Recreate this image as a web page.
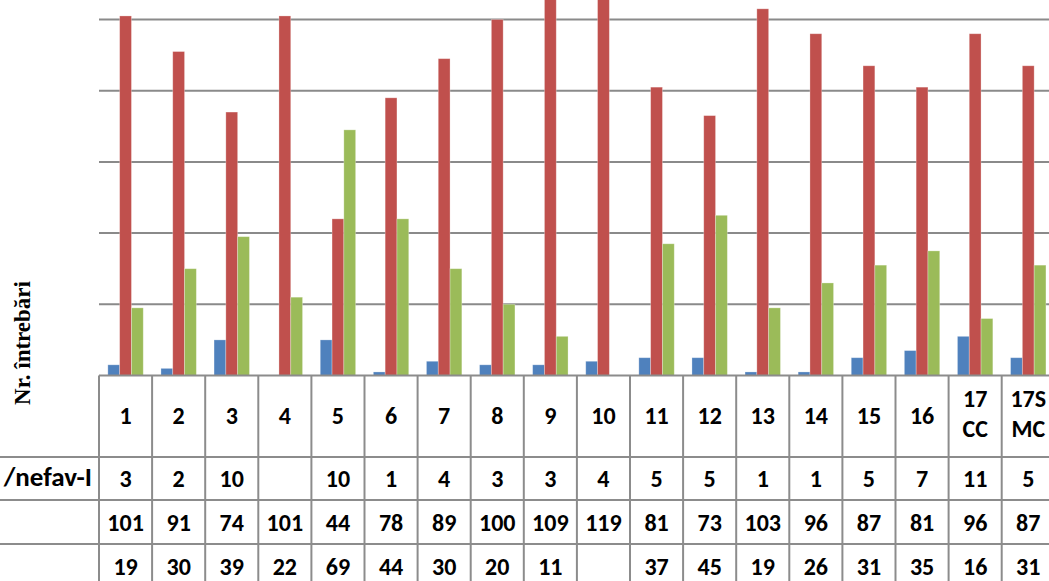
<!DOCTYPE html>
<html lang="ro">
  <head>
    <meta charset="UTF-8" />
    <title>Nr. întrebări</title>
    <style>
      body {
        margin: 0;
        background: #ffffff;
      }
      .cell {
        font-family: Carlito, Lato, "Open Sans", sans-serif;
        font-weight: 700;
        font-size: 24px;
        fill: #000000;
      }
    </style>
  </head>
  <body>
    <div id="chart"></div>

    <script src="https://cdn.jsdelivr.net/npm/d3@7"></script>

    <script>
      ///////////////////////////////////////////////////////////////////////////
      //////////////////////////////// Data /////////////////////////////////////
      ///////////////////////////////////////////////////////////////////////////

      var categories = ["1", "2", "3", "4", "5", "6", "7", "8", "9", "10",
        "11", "12", "13", "14", "15", "16", "17 CC", "17S MC"];
      // null = empty cell in the data table
      var blueValues = [3, 2, 10, null, 10, 1, 4, 3, 3, 4, 5, 5, 1, 1, 5, 7, 11, 5];
      var redValues = [101, 91, 74, 101, 44, 78, 89, 100, 109, 119, 81, 73, 103, 96, 87, 81, 96, 87];
      var greenValues = [19, 30, 39, 22, 69, 44, 30, 20, 11, null, 37, 45, 19, 26, 31, 35, 16, 31];
      var seriesNames = ["blue", "red", "green"];
      var rowLabels = ["/nefav-I", "", ""];
      var gridTicks = [20, 40, 60, 80, 100, 120];

      var series = [blueValues, redValues, greenValues];
      var colors = ["#4F81BD", "#C0504D", "#9BBB59"];

      ///////////////////////////////////////////////////////////////////////////
      ////////////////////////////// Set up svg /////////////////////////////////
      ///////////////////////////////////////////////////////////////////////////

      var width = 1049,
        height = 581;

      var svg = d3
        .select("#chart")
        .append("svg")
        .attr("width", width)
        .attr("height", height);

      var plotLeft = 99,
        colWidth = 53.1,
        baseY = 375.5;

      //Table rows (header + 3 data rows)
      var rowEdges = [375.5, 457, 500, 544, 588];

      var x = d3
        .scaleBand()
        .domain(categories)
        .range([plotLeft, plotLeft + colWidth * categories.length])
        .paddingInner(1 / 3)
        .paddingOuter(1 / 6);

      var xSeries = d3
        .scaleBand()
        .domain(seriesNames)
        .range([0, x.bandwidth()]);

      var y = d3
        .scaleLinear()
        .domain([0, 100])
        .range([baseY, 19.5]);

      ///////////////////////////////////////////////////////////////////////////
      ////////////////////////////// Gridlines //////////////////////////////////
      ///////////////////////////////////////////////////////////////////////////

      svg
        .append("g")
        .selectAll("line")
        .data(gridTicks)
        .enter()
        .append("line")
        .attr("x1", plotLeft)
        .attr("x2", width)
        .attr("y1", function(d) { return y(d); })
        .attr("y2", function(d) { return y(d); })
        .style("stroke", "#8a8a8a")
        .style("stroke-width", 2);

      ///////////////////////////////////////////////////////////////////////////
      //////////////////////////////// Bars /////////////////////////////////////
      ///////////////////////////////////////////////////////////////////////////

      var bars = [];
      categories.forEach(function(c, i) {
        series.forEach(function(s, j) {
          if (s[i] !== null) bars.push({ cat: c, key: seriesNames[j], value: s[i], color: colors[j] });
        });
      });

      svg
        .append("g")
        .selectAll("rect")
        .data(bars)
        .enter()
        .append("rect")
        .attr("x", function(d) { return x(d.cat) + xSeries(d.key); })
        .attr("width", xSeries.bandwidth())
        .attr("y", function(d) { return y(d.value); })
        .attr("height", function(d) { return baseY - y(d.value); })
        .style("fill", function(d) { return d.color; })
        .style("stroke", "rgba(255,255,255,0.35)")
        .style("stroke-width", 0.8);

      ///////////////////////////////////////////////////////////////////////////
      ///////////////////////////// Data table //////////////////////////////////
      ///////////////////////////////////////////////////////////////////////////

      var table = svg.append("g");
      var lineColor = "#8c8c8c";

      //horizontal lines: top only over the table, the others run to the left edge
      rowEdges.forEach(function(ry, i) {
        table
          .append("line")
          .attr("x1", i === 0 ? plotLeft : 0)
          .attr("x2", width)
          .attr("y1", ry)
          .attr("y2", ry)
          .style("stroke", lineColor)
          .style("stroke-width", 2);
      });

      //vertical lines
      d3.range(categories.length + 1).forEach(function(i) {
        table
          .append("line")
          .attr("x1", plotLeft + i * colWidth)
          .attr("x2", plotLeft + i * colWidth)
          .attr("y1", baseY)
          .attr("y2", height)
          .style("stroke", lineColor)
          .style("stroke-width", 2);
      });

      //header row (categories)
      categories.forEach(function(c, i) {
        var cx = plotLeft + (i + 0.5) * colWidth;
        var parts = c.split(" ");
        var t = table
          .append("text")
          .attr("class", "cell")
          .attr("text-anchor", "middle")
          .attr("x", cx);
        if (parts.length === 1) {
          t.attr("y", 424).text(c);
        } else {
          t.append("tspan").attr("x", cx).attr("y", 407).text(parts[0]);
          t.append("tspan").attr("x", cx).attr("y", 437).text(parts[1]);
        }
      });

      //data rows
      series.forEach(function(s, j) {
        var cy = (rowEdges[j + 1] + rowEdges[j + 2]) / 2 + 8.5;
        table
          .selectAll(".row" + j)
          .data(s)
          .enter()
          .append("text")
          .attr("class", "cell row" + j)
          .attr("text-anchor", "middle")
          .attr("x", function(d, i) { return plotLeft + (i + 0.5) * colWidth; })
          .attr("y", cy)
          .text(function(d) { return d === null ? "" : d; });

        table
          .append("text")
          .attr("class", "cell")
          .attr("text-anchor", "end")
          .attr("x", 92)
          .attr("y", cy - 1.5)
          .style("font-size", "27px")
          .text(rowLabels[j]);
      });

      ///////////////////////////////////////////////////////////////////////////
      ///////////////////////////// Axis title //////////////////////////////////
      ///////////////////////////////////////////////////////////////////////////

      svg
        .append("text")
        .attr("transform", "translate(30,343) rotate(-90)")
        .attr("text-anchor", "middle")
        .style("font-family", "'Liberation Serif', 'Times New Roman', serif")
        .style("font-weight", 700)
        .style("font-size", "23px")
        .text("Nr. întrebări");
    </script>
  </body>
</html>
